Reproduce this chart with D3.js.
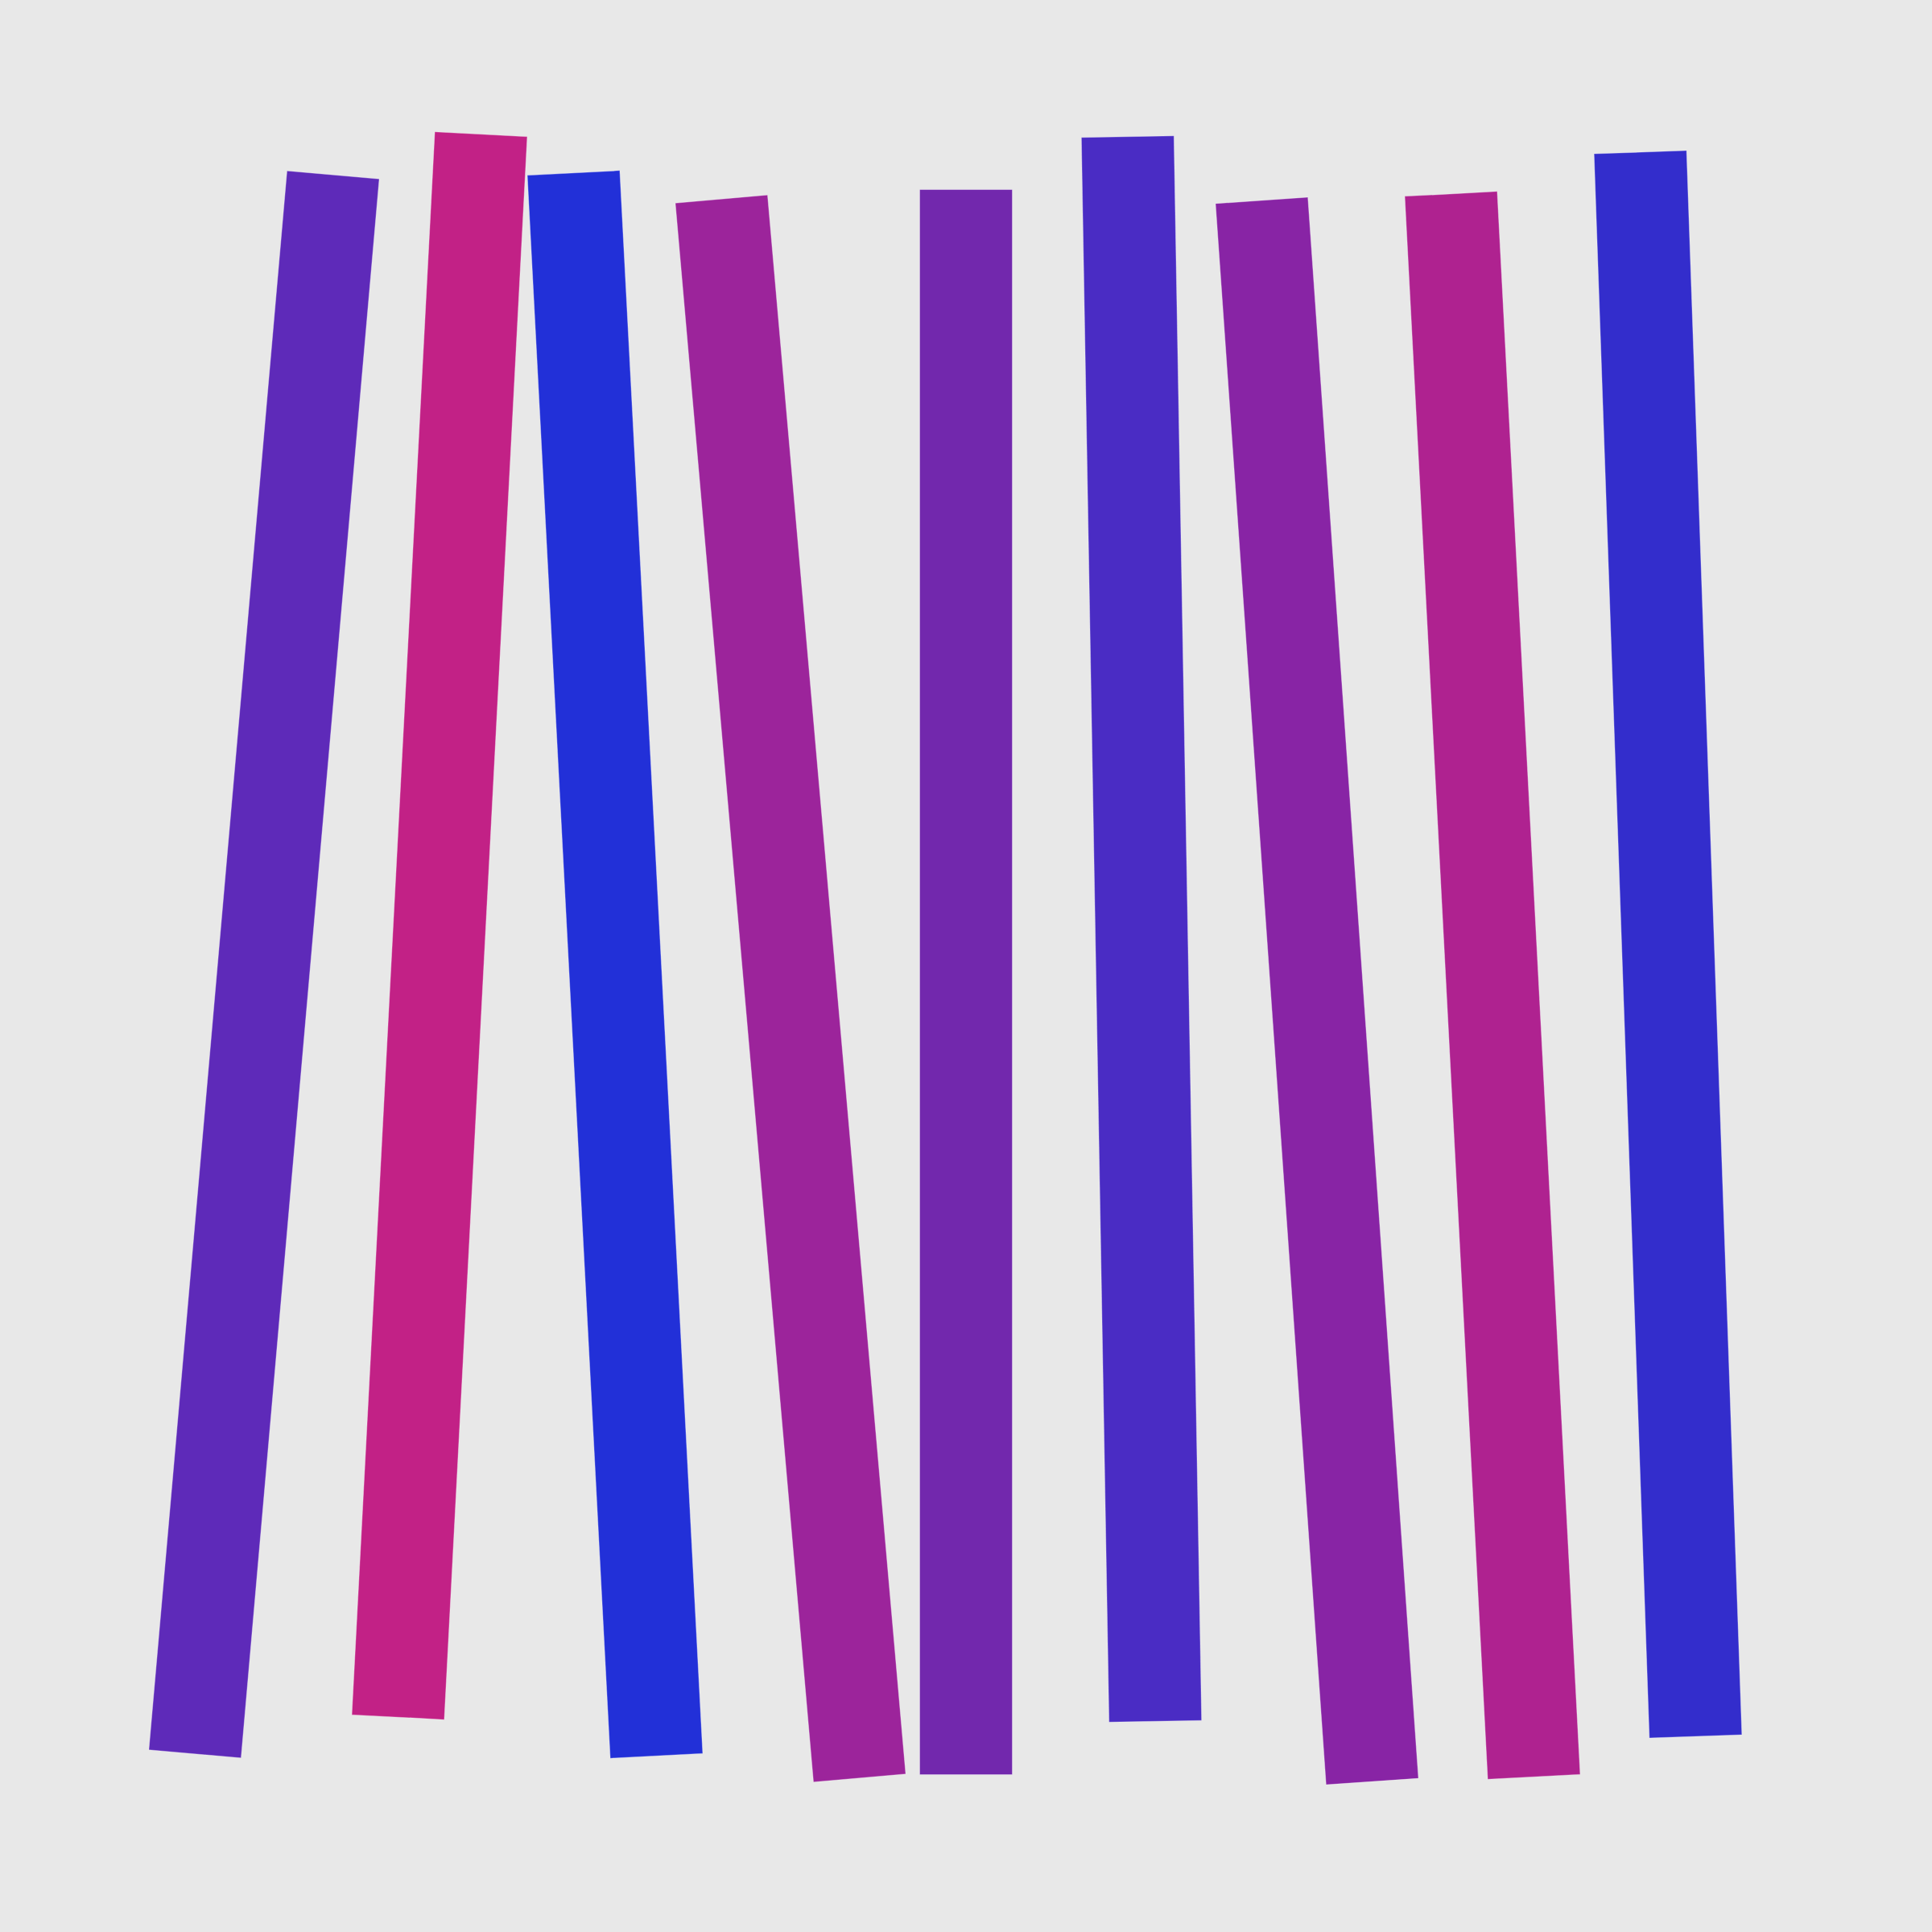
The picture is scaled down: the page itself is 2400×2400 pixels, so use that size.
<!DOCTYPE html>
<html>
<head>
<meta charset="utf-8">
<script src="https://cdn.jsdelivr.net/npm/d3@7"></script>
<style>
  html, body { margin: 0; padding: 0; background: #e8e8e8; }
  svg { display: block; }
</style>
</head>
<body>
<script>
// nine tilted bars, same length, spread evenly across the page
var width = 2400;
var height = 2400;

var categories = ["a", "b", "c", "d", "e", "f", "g", "h", "i"];
var centerY = [1198, 1150, 1198, 1228, 1220, 1154, 1231, 1224, 1173];
var angles = [5, 3, -3, -5, 0, -1, -4, -3, -2];
var colors = ["#5e2ab9", "#c22186", "#2230d8", "#9c249b", "#7228ad",
              "#4a2cc4", "#8824a5", "#af2290", "#332dcc"];

var barLength = 1969;
var barWidth = 115;

var svg = d3.select('body').append('svg')
  .attr('width', width)
  .attr('height', height);

svg.append('rect')
  .attr('width', width).attr('height', height)
  .attr('fill', '#e8e8e8');

var x = d3.scalePoint().domain(categories).range([328, 2072]);
var y = d3.scaleLinear().domain([0, height]).range([0, height]);

var bars = categories.map(function(c, i) {
  return {cat: c, cy: centerY[i], angle: angles[i], color: colors[i]};
});

svg.selectAll('g.bar')
  .data(bars).enter().append('g')
  .attr('class', 'bar')
  .attr('transform', function(d) {
    return 'translate(' + x(d.cat) + ',' + y(d.cy) + ') rotate(' + d.angle + ')';
  })
  .append('rect')
  .attr('x', -barWidth / 2)
  .attr('y', -barLength / 2)
  .attr('width', barWidth)
  .attr('height', barLength)
  .attr('fill', function(d) { return d.color; })
  .attr('stroke', 'rgba(255,255,255,0.35)')
  .attr('stroke-width', 1);
</script>
</body>
</html>
